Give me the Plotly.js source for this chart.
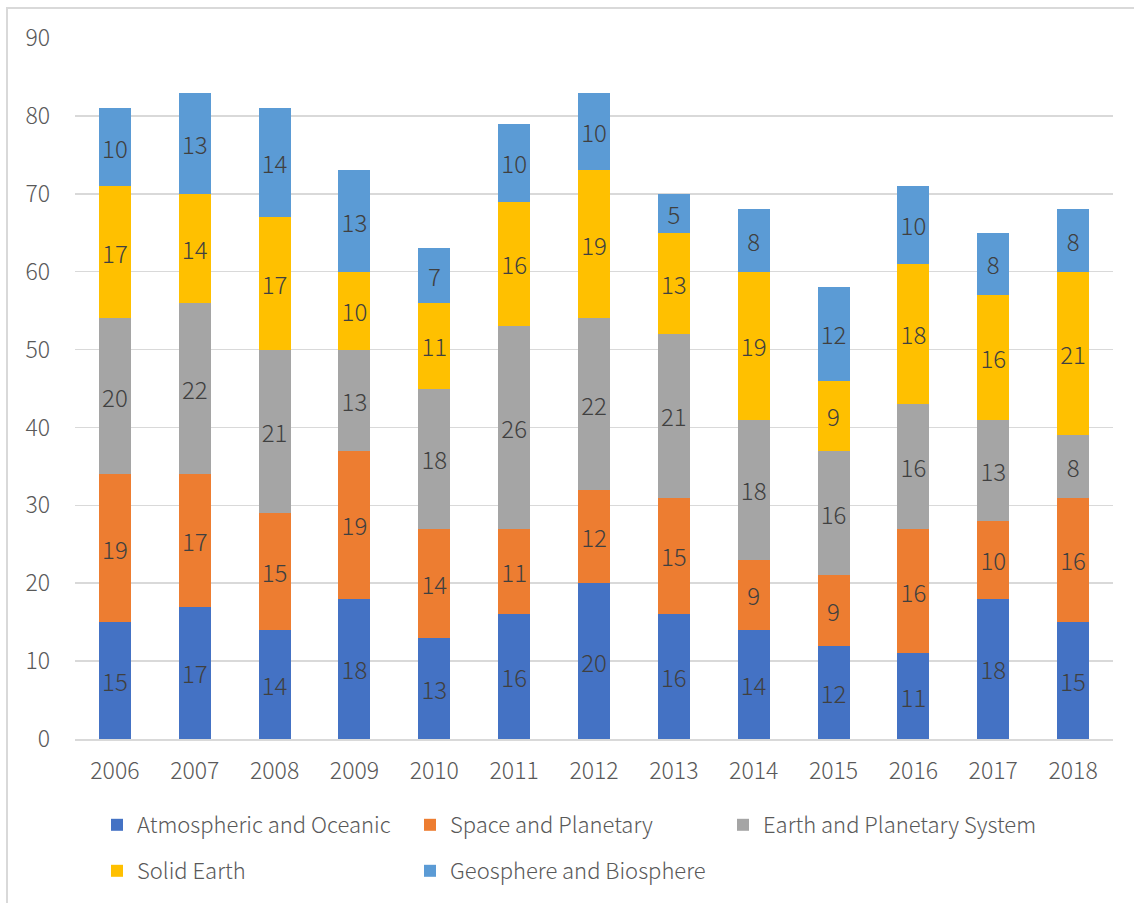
<!DOCTYPE html>
<html>
<head>
<meta charset="utf-8">
<script src="https://cdn.plot.ly/plotly-3.0.1.min.js"></script>
<style>
html,body{margin:0;padding:0;background:#fff;overflow:hidden;}
#frame{position:absolute;left:6px;top:7px;width:1200px;height:1000px;border-left:2px solid #D9D9D9;border-top:2px solid #D9D9D9;box-sizing:border-box;pointer-events:none;z-index:10;}
#chart{position:absolute;left:0;top:0;width:1134px;height:903px;}
</style>
</head>
<body>
<div id="chart"></div>
<div id="frame"></div>
<script>
const years = ["2006","2007","2008","2009","2010","2011","2012","2013","2014","2015","2016","2017","2018"];
const atmosphericOceanic = [15,17,14,18,13,16,20,16,14,12,11,18,15];
const spacePlanetary = [19,17,15,19,14,11,12,15,9,9,16,10,16];
const earthPlanetarySystem = [20,22,21,13,18,26,22,21,18,16,16,13,8];
const solidEarth = [17,14,17,10,11,16,19,13,19,9,18,16,21];
const geosphereBiosphere = [10,13,14,13,7,10,10,5,8,12,10,8,8];
const seriesNames = ["Atmospheric and Oceanic","Space and Planetary","Earth and Planetary System","Solid Earth","Geosphere and Biosphere"];
const seriesValues = [atmosphericOceanic, spacePlanetary, earthPlanetarySystem, solidEarth, geosphereBiosphere];
const colors = ["#4472C4","#ED7D31","#A5A5A5","#FFC000","#5B9BD5"];
const legendRow = ["legend","legend","legend","legend2","legend2"];
const FONT = '"Noto Sans CJK JP", "Noto Sans", sans-serif';

const traces = seriesNames.map((name, i) => ({
  type: 'bar',
  name: name,
  x: years,
  y: seriesValues[i],
  text: seriesValues[i].map(String),
  textposition: 'inside',
  insidetextanchor: 'middle',
  textangle: 0,
  constraintext: 'none',
  textfont: {family: FONT, size: 24, color: '#404040', weight: 300},
  marker: {color: colors[i], line: {width: 0}},
  legend: legendRow[i],
  hoverinfo: 'x+y+name'
}));

const legendBase = {
  orientation: 'h',
  xref: 'container', yref: 'container',
  x: 97/1134,
  xanchor: 'left', yanchor: 'middle',
  entrywidth: 268, entrywidthmode: 'pixels',
  traceorder: 'normal',
  font: {family: FONT, size: 22, color: '#595959', weight: 300},
  itemclick: false, itemdoubleclick: false,
  bgcolor: 'rgba(0,0,0,0)'
};

const layout = {
  width: 1134,
  height: 903,
  barmode: 'stack',
  bargap: 0.6,
  paper_bgcolor: '#ffffff',
  plot_bgcolor: '#ffffff',
  margin: {l: 75, r: 21, t: 38, b: 164},
  font: {family: FONT, color: '#595959', size: 22, weight: 300},
  xaxis: {
    type: 'category',
    tickfont: {family: FONT, size: 23, color: '#595959', weight: 300},
    showline: true, linecolor: '#D9D9D9', linewidth: 2,
    ticks: '', showgrid: false, zeroline: false,
    ticklabelstandoff: 10
  },
  yaxis: {
    range: [0, 90],
    dtick: 10,
    tickfont: {family: FONT, size: 23, color: '#595959', weight: 300},
    showgrid: true, gridcolor: '#D9D9D9', gridwidth: 1.5,
    zeroline: false, showline: false, ticks: '',
    ticklabelstandoff: 24
  },
  legend: Object.assign({}, legendBase, {y: 1 - 825/903}),
  legend2: Object.assign({}, legendBase, {y: 1 - 871/903}),
  showlegend: true
};

Plotly.newPlot('chart', traces, layout, {displayModeBar: false, staticPlot: true});
</script>
</body>
</html>
